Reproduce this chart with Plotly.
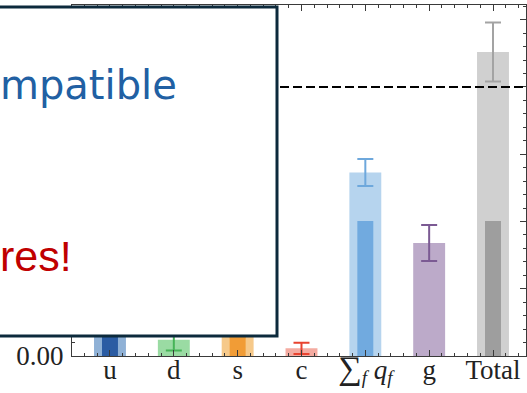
import plotly.graph_objects as go

# ---------------- data ----------------
categories = ["u", "d", "s", "c",
              "<span style='font-size:33px'>∑</span><sub><i>f</i></sub> <i>q<sub>f</sub></i>",
              "g", "Total"]
total_vals = [0.25, 0.030, 0.050, 0.0143, 0.341, 0.210, 0.565]      # wide, light bars (J)
total_errs = [0.030, 0.020, 0.015, 0.0105, 0.025, 0.0335, 0.055]
spin_vals = [0.42, 0.0, 0.045, 0.0, 0.251, 0.0, 0.251]              # narrow, dark bars (1/2 ΔΣ)
light_colors = ["#8fb1d6", "#9adba3", "#f6c98a", "#f4aba1", "#b6d4ee", "#bcaac9", "#d0d0d0"]
dark_colors = ["#2b5ca3", "#46b457", "#f19c36", "#ec5a45", "#71aadf", "#8e74a6", "#9e9e9e"]
err_colors = ["#2b5ca3", "#46b457", "#f19c36", "#e8432f", "#6ea8dc", "#7b5a93", "#a3a3a3"]
dash_level = 0.5
y_tick_vals = [0.0, 0.125, 0.25, 0.375, 0.5, 0.625]
y_tick_text = ["0.00", "0.13", "0.25", "0.38", "0.50", "0.63"]
box_lines = [("mpatible", "#2160a3"), ("res!", "#c00000")]

# ---------------- geometry helpers ----------------
W, H = 527, 393
ML, MR, MT, MB = 72, 1, 5, 37
PW, PH = W - ML - MR, H - MT - MB


def px_x(p):
    return (p - ML) / PW


def px_y(p):
    return (H - MB - p) / PH


xs = list(range(len(categories)))
fig = go.Figure()

for i in xs:
    fig.add_trace(go.Bar(
        x=[xs[i]], y=[total_vals[i]], width=0.5,
        marker=dict(color=light_colors[i], line=dict(width=0)),
        error_y=dict(type="data", array=[total_errs[i]], color=err_colors[i],
                     thickness=2, width=8),
        showlegend=False, hoverinfo="skip",
    ))
for i in xs:
    fig.add_trace(go.Bar(
        x=[xs[i]], y=[spin_vals[i]], width=0.25,
        marker=dict(color=dark_colors[i], line=dict(width=0)),
        showlegend=False, hoverinfo="skip",
    ))

axis_common = dict(
    showline=True, linecolor="#3a3a3a", linewidth=1.2, mirror="allticks",
    ticks="inside", tickcolor="#3a3a3a", tickwidth=1.2, ticklen=6,
    showgrid=False, zeroline=False, automargin=False,
    tickfont=dict(family="Liberation Serif", size=27, color="#222222"),
)

fig.update_layout(
    width=W, height=H, margin=dict(l=ML, r=MR, t=MT, b=MB),
    paper_bgcolor="white", plot_bgcolor="white", barmode="overlay",
    xaxis=dict(axis_common, range=[-0.595, 6.517], tickmode="array",
               tickvals=xs, ticktext=categories, ticklabelstandoff=-11,
               minor=dict(tickmode="linear", tick0=0, dtick=0.2, ticks="inside",
                          ticklen=3, tickcolor="#3a3a3a", tickwidth=1)),
    yaxis=dict(axis_common, range=[0, 0.6524], tickmode="array",
               tickvals=y_tick_vals, ticktext=y_tick_text, ticklabelstandoff=2,
               minor=dict(tickmode="linear", tick0=0, dtick=0.025, ticks="inside",
                          ticklen=3, tickcolor="#3a3a3a", tickwidth=1)),
)

# reference dashed line
fig.add_shape(type="line", xref="paper", x0=0, x1=1, yref="y", y0=dash_level, y1=dash_level,
              line=dict(color="black", width=2, dash="9px,4px"), layer="above")

# overlay text box
fig.add_shape(type="rect", xref="paper", yref="paper",
              x0=px_x(-20), x1=px_x(277), y0=px_y(336), y1=px_y(7),
              fillcolor="white", line=dict(color="#0c2a3c", width=3), layer="above")

fig.add_annotation(text=box_lines[0][0], xref="paper", yref="paper",
                   x=px_x(179), y=px_y(85), xanchor="right", yanchor="middle",
                   showarrow=False,
                   font=dict(family="DejaVu Sans", size=40, color=box_lines[0][1]))
fig.add_annotation(text=box_lines[1][0], xref="paper", yref="paper",
                   x=px_x(74), y=px_y(256), xanchor="right", yanchor="middle",
                   showarrow=False,
                   font=dict(family="Liberation Sans", size=43, color=box_lines[1][1]))

fig.write_html("out.html", config={"displayModeBar": False},
               post_script="document.body.style.margin='0';document.body.style.overflow='hidden';")
